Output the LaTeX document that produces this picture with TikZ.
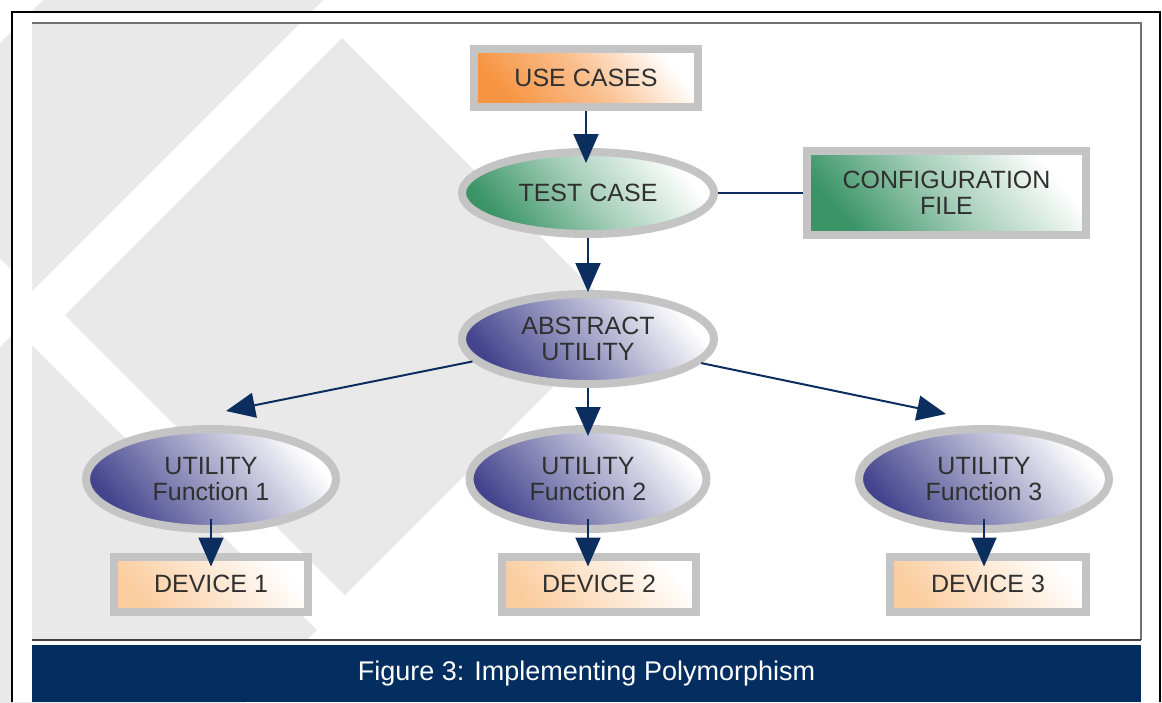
\documentclass[tikz,border=0pt]{standalone}
\usepackage{fontspec}
\setmainfont{Liberation Sans}
\usetikzlibrary{shapes.geometric,arrows.meta}
\definecolor{rim}{RGB}{196,196,196}
\definecolor{ink}{RGB}{48,48,48}
\definecolor{wire}{RGB}{12,46,94}
\definecolor{band}{RGB}{4,46,96}
\definecolor{wmgray}{RGB}{233,233,233}
\definecolor{usecol}{RGB}{247,148,66}
\definecolor{devcol}{RGB}{251,204,158}
\definecolor{grn}{RGB}{58,148,102}
\definecolor{purp}{RGB}{68,68,142}
\begin{document}
\begin{tikzpicture}[x=1pt,y=-1pt,
  every node/.style={inner sep=0pt,align=center,text=ink,font=\fontsize{25}{26.5}\selectfont},
  rbox/.style={rectangle,draw=rim,line width=8pt},
  oval/.style={ellipse,draw=rim,line width=8pt},
  usefill/.style={bottom color=usecol,top color=white,middle color=usecol!60,shading angle=-50},
  devfill/.style={bottom color=devcol,top color=white,shading angle=-50},
  grnfill/.style={bottom color=grn,top color=white,middle color=grn!45,shading angle=-50},
  purfill/.style={bottom color=purp,top color=white,middle color=purp!50,shading angle=-50},
  link/.style={draw=wire,line width=2pt,-{Triangle[length=29pt,width=25pt]}}]
\useasboundingbox (0,0) rectangle (1162,702);
% watermark squares behind the figure
\begin{scope}
\clip (0,0) rectangle (1162,702);
\fill[wmgray] (221.5,-178.5)--(361.5,-38.5)--(32.5,290.5)--(-107.5,150.5)--cycle;
\fill[wmgray] (342,38)--(622,318)--(345,595)--(65,315)--cycle;
\fill[wmgray] (17,330)--(317,630)--(40,907)--(-260,607)--cycle;
\end{scope}
\fill[white,even odd rule] (12,12) rectangle (1160,702) (32,23) rectangle (1141,640);
\draw[line width=1.5pt,black!55] (32,23)--(1141,23)--(1141,640);
\draw[line width=2.5pt,black!75] (32,640)--(1141,640);
\draw[line width=2.5pt] (12,702)--(12,12)--(1160,12)--(1160,702);
\node[fill=band,minimum width=1109pt,minimum height=57pt,text=white,font=\fontsize{27}{30}\selectfont] (cap) at (586.5,673.5) {Figure 3: Implementing Polymorphism};
\node[rbox,usefill,minimum width=224pt,minimum height=58pt] (use) at (586,78) {USE CASES};
\node[oval,grnfill,minimum width=252pt,minimum height=82pt] (test) at (588,193) {TEST CASE};
\node[rbox,grnfill,minimum width=279pt,minimum height=84pt] (cfg) at (946.5,193) {CONFIGURATION\\FILE};
\node[oval,purfill,minimum width=252pt,minimum height=90pt] (abs) at (588,339) {ABSTRACT\\UTILITY};
\node[oval,purfill,minimum width=250pt,minimum height=100pt] (f1) at (211,479) {UTILITY\\Function 1};
\node[oval,purfill,minimum width=237pt,minimum height=100pt] (f2) at (588,479) {UTILITY\\Function 2};
\node[oval,purfill,minimum width=250pt,minimum height=100pt] (f3) at (984,479) {UTILITY\\Function 3};
\node[rbox,devfill,minimum width=194pt,minimum height=55pt] (d1) at (211,584) {DEVICE 1};
\node[rbox,devfill,minimum width=194pt,minimum height=55pt] (d2) at (599,584) {DEVICE 2};
\node[rbox,devfill,minimum width=196pt,minimum height=55pt] (d3) at (988,584) {DEVICE 3};
\draw[link,shorten >=-15pt] (use.south)--(use.south|-test.north);\draw[link,shorten >=-2pt] (test.south)--(abs.north);
\draw[draw=wire,line width=1.5pt] (test.east)--(cfg.west);
\draw[link] (abs.191)--([xshift=15pt,yshift=14pt]f1.north);\draw[link,shorten >=-11pt] (abs.south)--(f2.north);\draw[link] (abs.348)--([xshift=-38pt,yshift=11pt]f3.north);
\draw[link,shorten <=-14pt,shorten >=-14pt] (f1.south)--(f1.south|-d1.north);\draw[link,shorten <=-14pt,shorten >=-14pt] (f2.south)--(f2.south|-d2.north);\draw[link,shorten <=-14pt,shorten >=-14pt] (f3.south)--(f3.south|-d3.north);
\end{tikzpicture}
\end{document}
